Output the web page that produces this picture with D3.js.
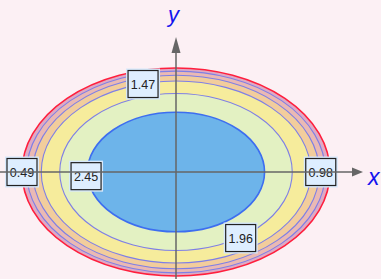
<!DOCTYPE html>
<meta charset="utf-8">
<style>
    body { margin: 0; background: #fcf0f4; }
    svg { display: block; }
    .lbl text { font-family: "Liberation Sans", Arial, sans-serif; font-size: 12.5px; fill: #222; }
</style>
<body>
<div id="chart"></div>
<script src="https://d3js.org/d3.v7.min.js"></script>
<script>
    // contour levels and the (normalised) radius of each level's ellipse
    var levels = [0, 0.49, 0.98, 1.47, 1.96, 2.45];
    var radii = [1.0, 0.97, 0.93, 0.875, 0.755, 0.575];
    var bandColors = ["#deaac4", "#eab9b4", "#f2cd9c", "#f6ec9c", "#e3f1c2", "#6db4ea"];
    var lineColors = ["#ff1f3d", "#7e7fe6", "#7e7fe6", "#7e7fe6", "#7e7fe6", "#3d6ef0"];

    // contour labels: level text and position in data units
    var labelText = ["0.49", "0.98", "1.47", "1.96", "2.45"];
    var labelX = [-1.0, 0.94, -0.214, 0.42, -0.584];
    var labelY = [0.0, 0.0, 0.846, -0.635, -0.04];

    var width = 381, height = 279;

    var svg = d3.select("#chart").append("svg")
        .attr("width", width)
        .attr("height", height);

    var x = d3.scaleLinear().domain([-1, 1]).range([22, 330]);
    var y = d3.scaleLinear().domain([-1, 1]).range([276, 68]);

    var rows = levels.map(function (l, i) {
        return {level: l, r: radii[i], fill: bandColors[i], stroke: lineColors[i]};
    });

    svg.selectAll(".band")
        .data(rows)
        .enter().append("ellipse")
        .attr("class", "band")
        .attr("cx", x(0))
        .attr("cy", y(0))
        .attr("rx", function (d) { return x(d.r) - x(0); })
        .attr("ry", function (d) { return y(0) - y(d.r); })
        .attr("fill", function (d) { return d.fill; })
        .attr("stroke", function (d) { return d.stroke; })
        .attr("stroke-width", function (d, i) { return (i == 0 || i == 5) ? 1.6 : 1.1; });

    // labels
    var lbl = svg.selectAll(".lbl")
        .data(labelText)
        .enter().append("g")
        .attr("class", "lbl")
        .attr("transform", function (d, i) {
            return "translate(" + x(labelX[i]) + "," + y(labelY[i]) + ")";
        });

    lbl.append("rect")
        .attr("x", -16).attr("y", -14.5)
        .attr("width", 32).attr("height", 29)
        .attr("fill", "none")
        .attr("stroke", "#d6e8fb")
        .attr("stroke-width", 2);

    lbl.append("rect")
        .attr("x", -15).attr("y", -13.5)
        .attr("width", 30).attr("height", 27)
        .attr("fill", "#deeeff")
        .attr("stroke", "#222")
        .attr("stroke-width", 1.2);

    lbl.append("text")
        .attr("text-anchor", "middle")
        .attr("dy", "0.36em")
        .text(function (d) { return d; });

    // axes with arrows
    var axisColor = "#666";
    svg.append("line")
        .attr("x1", 0).attr("x2", 352)
        .attr("y1", y(0)).attr("y2", y(0))
        .attr("stroke", axisColor).attr("stroke-width", 1.5);
    svg.append("path")
        .attr("d", "M352," + (y(0) - 4.5) + "L363," + y(0) + "L352," + (y(0) + 4.5) + "Z")
        .attr("fill", axisColor);

    svg.append("line")
        .attr("x1", x(0)).attr("x2", x(0))
        .attr("y1", height).attr("y2", 50)
        .attr("stroke", axisColor).attr("stroke-width", 1.5);
    svg.append("path")
        .attr("d", "M" + (x(0) - 4.5) + ",53L" + x(0) + ",37L" + (x(0) + 4.5) + ",53Z")
        .attr("fill", axisColor);

    svg.append("text")
        .attr("x", 368).attr("y", 185)
        .attr("font-family", "Liberation Sans, Arial, sans-serif")
        .attr("font-style", "italic")
        .attr("font-size", "23px")
        .attr("fill", "#1414ee")
        .text("x");

    svg.append("text")
        .attr("x", 168).attr("y", 22)
        .attr("font-family", "Liberation Sans, Arial, sans-serif")
        .attr("font-style", "italic")
        .attr("font-size", "22px")
        .attr("fill", "#1414ee")
        .text("y");
</script>
</body>
